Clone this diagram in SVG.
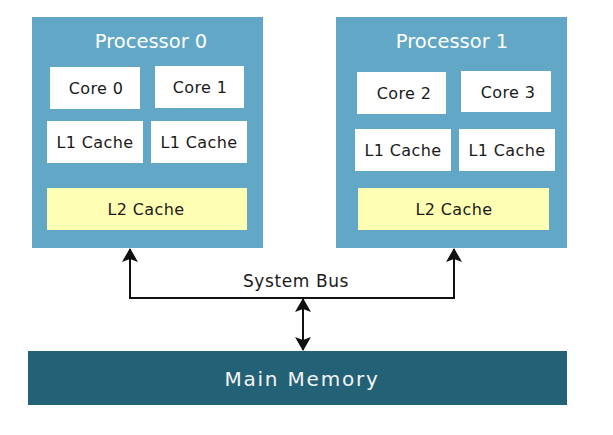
<svg xmlns="http://www.w3.org/2000/svg" width="613" height="435" viewBox="0 0 613 435">
  <defs>
    <marker id="arrow" viewBox="0 0 14 16" refX="13" refY="8" markerWidth="14" markerHeight="16" markerUnits="userSpaceOnUse" orient="auto-start-reverse">
      <path d="M0,0 L14,8 L0,16 L3,8 z" fill="#111"/>
    </marker>
    <style>
      text { font-family: "DejaVu Sans", "Open Sans", sans-serif; text-anchor: middle; }
      .proc { fill: #62A7C5; }
      .title { fill: #ffffff; font-size: 19.5px; }
      .box { fill: #ffffff; }
      .l2 { fill: #FFFFB4; }
      .lbl { fill: #1a1a1a; font-size: 16px; letter-spacing: 0.4px; }
      .mem { fill: #236276; }
      .memtxt { fill: #f4f4f4; font-size: 20px; letter-spacing: 1.8px; }
      .bus { fill: #1a1a1a; font-size: 17px; letter-spacing: 0.6px; }
      .conn { stroke: #111; stroke-width: 2; fill: none; }
    </style>
  </defs>
  <rect width="613" height="435" fill="#ffffff"/>

  <g id="processor0">
    <rect class="proc" x="32" y="17" width="231" height="231"/>
    <text class="title" x="151" y="48">Processor 0</text>
    <g id="core0">
      <rect class="box" x="50" y="67" width="90" height="42"/>
      <text class="lbl" x="96" y="94">Core 0</text>
    </g>
    <g id="core1">
      <rect class="box" x="155" y="66" width="89" height="42"/>
      <text class="lbl" x="200" y="93">Core 1</text>
    </g>
    <g id="l1cache0">
      <rect class="box" x="47" y="121" width="96" height="42"/>
      <text class="lbl" x="95" y="148">L1 Cache</text>
    </g>
    <g id="l1cache1">
      <rect class="box" x="151" y="121" width="96" height="42"/>
      <text class="lbl" x="199" y="148">L1 Cache</text>
    </g>
    <g id="l2cache0">
      <rect class="l2" x="47" y="188" width="200" height="42"/>
      <text class="lbl" x="146" y="215">L2 Cache</text>
    </g>
  </g>

  <g id="processor1">
    <rect class="proc" x="336" y="17" width="231" height="231"/>
    <text class="title" x="452" y="48">Processor 1</text>
    <g id="core2">
      <rect class="box" x="357" y="72" width="89" height="42"/>
      <text class="lbl" x="404" y="99">Core 2</text>
    </g>
    <g id="core3">
      <rect class="box" x="461" y="71" width="90" height="41"/>
      <text class="lbl" x="508" y="97.5">Core 3</text>
    </g>
    <g id="l1cache2">
      <rect class="box" x="355" y="129" width="96" height="42"/>
      <text class="lbl" x="403" y="156">L1 Cache</text>
    </g>
    <g id="l1cache3">
      <rect class="box" x="459" y="129" width="96" height="42"/>
      <text class="lbl" x="507" y="156">L1 Cache</text>
    </g>
    <g id="l2cache1">
      <rect class="l2" x="358" y="188" width="191" height="42"/>
      <text class="lbl" x="454" y="215">L2 Cache</text>
    </g>
  </g>

  <g id="main-memory">
    <rect class="mem" x="28" y="351" width="539" height="54"/>
    <text class="memtxt" x="302" y="386">Main Memory</text>
  </g>

  <g id="connectors">
    <path class="conn" d="M130,298 H454"/>
    <path class="conn" d="M130,299 V249" marker-end="url(#arrow)"/>
    <path class="conn" d="M454,299 V249" marker-end="url(#arrow)"/>
    <path class="conn" d="M303,299 V350" marker-start="url(#arrow)" marker-end="url(#arrow)"/>
    <text class="bus" x="296" y="287">System Bus</text>
  </g>
</svg>
